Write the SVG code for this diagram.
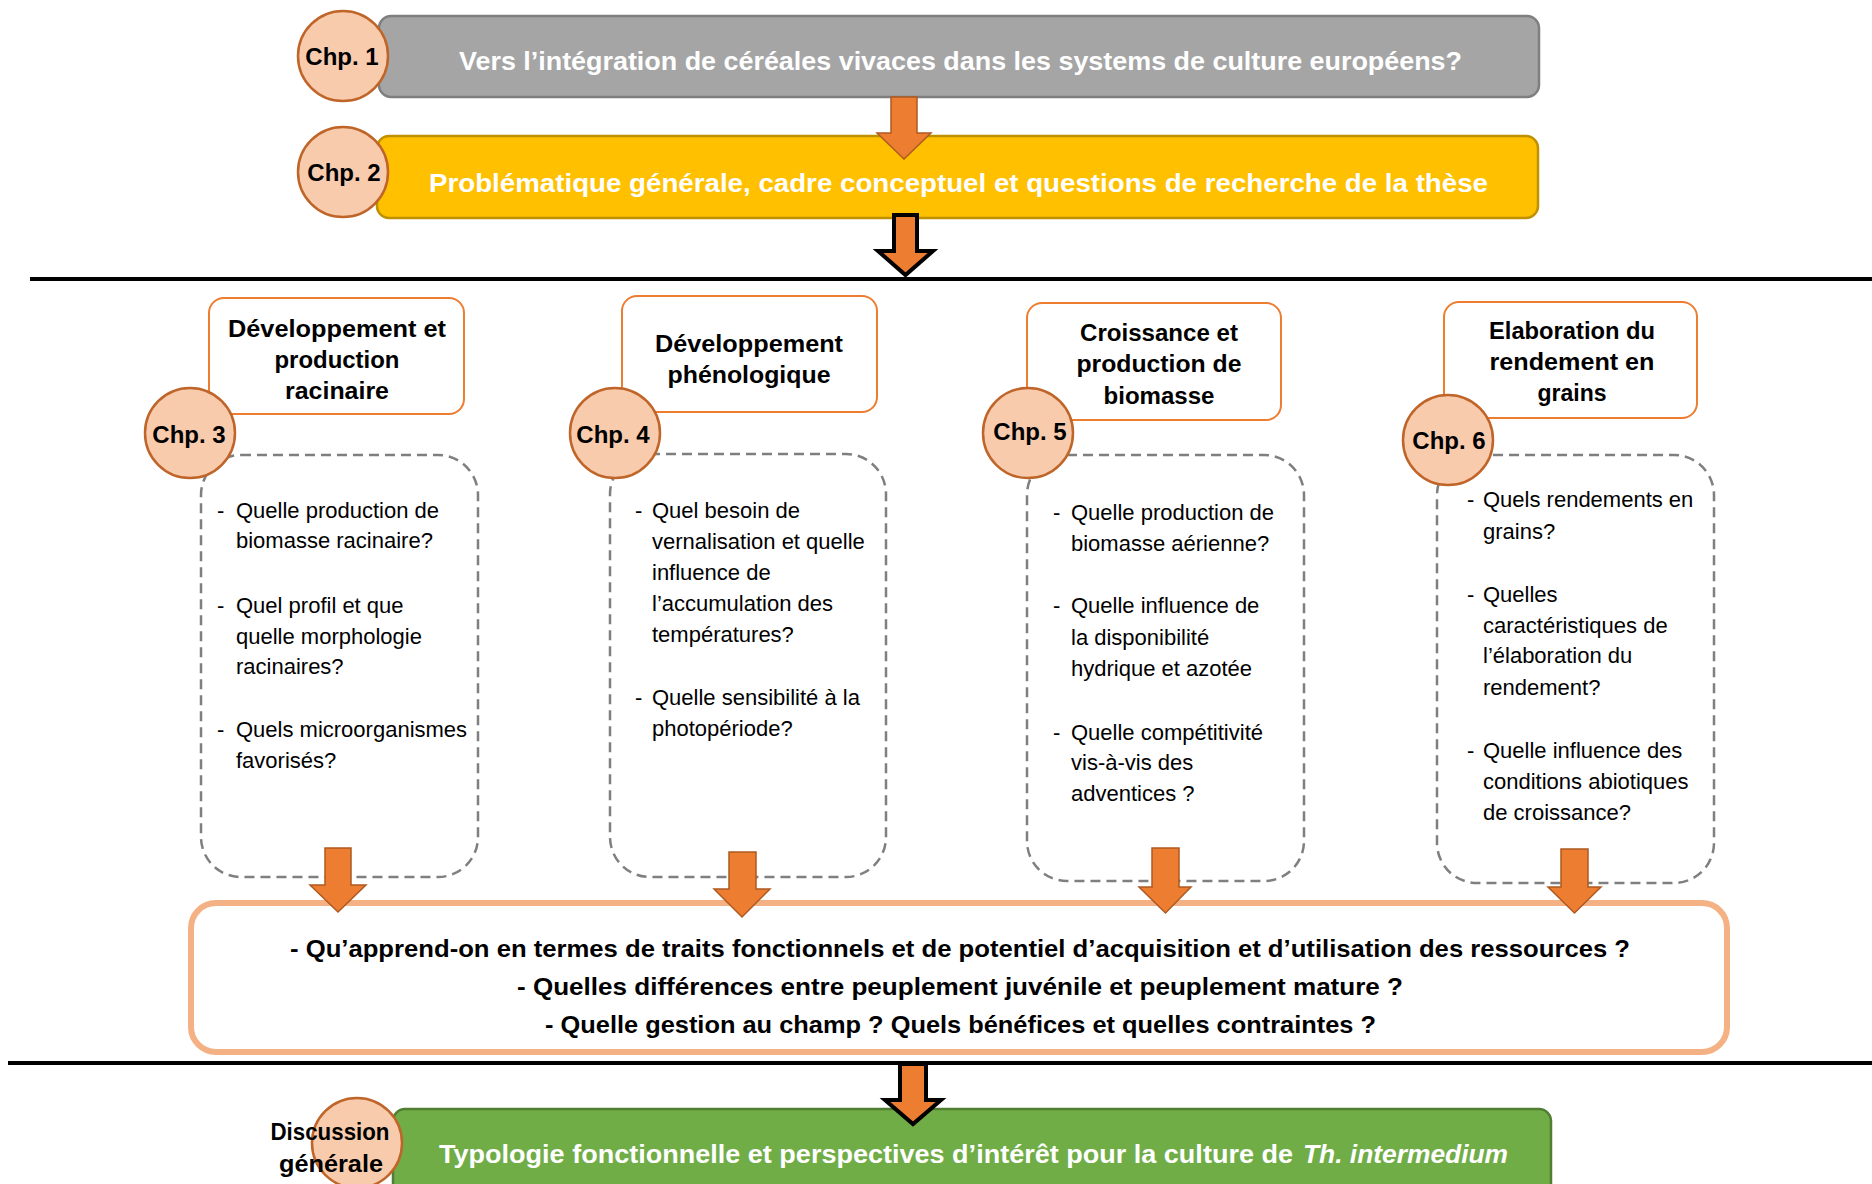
<svg xmlns="http://www.w3.org/2000/svg" width="1872" height="1184" viewBox="0 0 1872 1184">
<style>
.bg{fill:#fff}
.circ{fill:#F8CBAD;stroke:#C0652A;stroke-width:2.5}
.ctext{font-family:'Liberation Sans',Arial,sans-serif;font-weight:bold;font-size:24px;fill:#000;text-anchor:middle}
.band{font-family:'Liberation Sans',Arial,sans-serif;font-weight:bold;fill:#fff}
.tbox{fill:#fff;stroke:#ED7D31;stroke-width:2}
.ttl{font-family:'Liberation Sans',Arial,sans-serif;font-weight:bold;font-size:23px;fill:#000;text-anchor:middle}
.dbox{fill:none;stroke:#7F7F7F;stroke-width:2.5;stroke-dasharray:10 6}
.q{font-family:'Liberation Sans',Arial,sans-serif;font-size:22px;fill:#000}
.syn{font-family:'Liberation Sans',Arial,sans-serif;font-weight:bold;font-size:24px;fill:#000}
.arr{fill:#ED7D31;stroke:#AE5A21;stroke-width:1.5;stroke-linejoin:miter}
.arrk{fill:#ED7D31;stroke:#000;stroke-width:4;stroke-linejoin:miter}
.sep{stroke:#000;stroke-width:4}
</style>
<rect class="bg" x="0" y="0" width="1872" height="1184"/>

<g id="separators">
<line class="sep" x1="30" y1="279" x2="1872" y2="279"/>
<line class="sep" x1="8" y1="1063" x2="1872" y2="1063"/>
</g>

<g id="chp1">
<rect x="379" y="16" width="1160" height="81" rx="12" fill="#A5A5A5" stroke="#7F7F7F" stroke-width="2.5"/>
<text class="band" x="459" y="70" font-size="25" textLength="1003" lengthAdjust="spacingAndGlyphs">Vers l’intégration de céréales vivaces dans les systems de culture européens?</text>
<circle class="circ" cx="343" cy="56" r="45"/>
<text class="ctext" x="342" y="65">Chp. 1</text>
</g>

<g id="chp2">
<rect x="377" y="136" width="1161" height="82" rx="12" fill="#FFC000" stroke="#BF9000" stroke-width="2.5"/>
<text class="band" x="429" y="192" font-size="26.5" textLength="1059" lengthAdjust="spacingAndGlyphs">Problématique générale, cadre conceptuel et questions de recherche de la thèse</text>
<circle class="circ" cx="343" cy="172" r="45"/>
<text class="ctext" x="344" y="181">Chp. 2</text>
</g>

<g id="chp3">
<rect class="tbox" x="209" y="298" width="255" height="116" rx="15"/>
<text class="ttl" x="337" y="337" textLength="218" lengthAdjust="spacingAndGlyphs">Développement et</text>
<text class="ttl" x="337" y="368" textLength="125" lengthAdjust="spacingAndGlyphs">production</text>
<text class="ttl" x="337" y="399" textLength="104" lengthAdjust="spacingAndGlyphs">racinaire</text>
<rect class="dbox" x="201" y="455" width="277" height="422" rx="40"/>
<circle class="circ" cx="190" cy="433" r="45"/>
<text class="ctext" x="189" y="443">Chp. 3</text>
<text class="q" x="217" y="518">-</text><text class="q" x="236" y="518">Quelle production de</text>
<text class="q" x="236" y="548">biomasse racinaire?</text>
<text class="q" x="217" y="613">-</text><text class="q" x="236" y="613">Quel profil et que</text>
<text class="q" x="236" y="644">quelle morphologie</text>
<text class="q" x="236" y="674">racinaires?</text>
<text class="q" x="217" y="737">-</text><text class="q" x="236" y="737">Quels microorganismes</text>
<text class="q" x="236" y="768">favorisés?</text>
</g>

<g id="chp4">
<rect class="tbox" x="622" y="296" width="255" height="116" rx="15"/>
<text class="ttl" x="749" y="352" textLength="188" lengthAdjust="spacingAndGlyphs">Développement</text>
<text class="ttl" x="749" y="383" textLength="163" lengthAdjust="spacingAndGlyphs">phénologique</text>
<rect class="dbox" x="610" y="454" width="276" height="423" rx="40"/>
<circle class="circ" cx="615" cy="433" r="45"/>
<text class="ctext" x="613" y="443">Chp. 4</text>
<text class="q" x="635" y="518">-</text><text class="q" x="652" y="518">Quel besoin de</text>
<text class="q" x="652" y="549">vernalisation et quelle</text>
<text class="q" x="652" y="580">influence de</text>
<text class="q" x="652" y="611">l’accumulation des</text>
<text class="q" x="652" y="642">températures?</text>
<text class="q" x="635" y="705">-</text><text class="q" x="652" y="705">Quelle sensibilité à la</text>
<text class="q" x="652" y="736">photopériode?</text>
</g>

<g id="chp5">
<rect class="tbox" x="1027" y="303" width="254" height="117" rx="15"/>
<text class="ttl" x="1159" y="341" textLength="158" lengthAdjust="spacingAndGlyphs">Croissance et</text>
<text class="ttl" x="1159" y="372" textLength="165" lengthAdjust="spacingAndGlyphs">production de</text>
<text class="ttl" x="1159" y="404" textLength="111" lengthAdjust="spacingAndGlyphs">biomasse</text>
<rect class="dbox" x="1027" y="455" width="277" height="426" rx="40"/>
<circle class="circ" cx="1028" cy="433" r="45"/>
<text class="ctext" x="1030" y="440">Chp. 5</text>
<text class="q" x="1053" y="520">-</text><text class="q" x="1071" y="520">Quelle production de</text>
<text class="q" x="1071" y="551">biomasse aérienne?</text>
<text class="q" x="1053" y="613">-</text><text class="q" x="1071" y="613">Quelle influence de</text>
<text class="q" x="1071" y="645">la disponibilité</text>
<text class="q" x="1071" y="676">hydrique et azotée</text>
<text class="q" x="1053" y="740">-</text><text class="q" x="1071" y="740">Quelle compétitivité</text>
<text class="q" x="1071" y="770">vis-à-vis des</text>
<text class="q" x="1071" y="801">adventices ?</text>
</g>

<g id="chp6">
<rect class="tbox" x="1444" y="302" width="253" height="116" rx="15"/>
<text class="ttl" x="1572" y="339" textLength="166" lengthAdjust="spacingAndGlyphs">Elaboration du</text>
<text class="ttl" x="1572" y="370" textLength="165" lengthAdjust="spacingAndGlyphs">rendement en</text>
<text class="ttl" x="1572" y="401" textLength="69" lengthAdjust="spacingAndGlyphs">grains</text>
<rect class="dbox" x="1437" y="455" width="277" height="428" rx="40"/>
<circle class="circ" cx="1448" cy="440" r="45"/>
<text class="ctext" x="1449" y="449">Chp. 6</text>
<text class="q" x="1467" y="507">-</text><text class="q" x="1483" y="507">Quels rendements en</text>
<text class="q" x="1483" y="539">grains?</text>
<text class="q" x="1467" y="602">-</text><text class="q" x="1483" y="602">Quelles</text>
<text class="q" x="1483" y="633">caractéristiques de</text>
<text class="q" x="1483" y="663">l’élaboration du</text>
<text class="q" x="1483" y="695">rendement?</text>
<text class="q" x="1467" y="758">-</text><text class="q" x="1483" y="758">Quelle influence des</text>
<text class="q" x="1483" y="789">conditions abiotiques</text>
<text class="q" x="1483" y="820">de croissance?</text>
</g>

<g id="synthese">
<rect x="191" y="903" width="1536" height="149" rx="25" fill="#fff" stroke="#F4B183" stroke-width="6"/>
<text class="syn" x="290" y="957" textLength="1340" lengthAdjust="spacingAndGlyphs">-  Qu’apprend-on en termes de traits fonctionnels et de potentiel d’acquisition et d’utilisation des ressources ?</text>
<text class="syn" x="517" y="995" textLength="886" lengthAdjust="spacingAndGlyphs">-  Quelles différences entre peuplement juvénile et peuplement mature ?</text>
<text class="syn" x="545" y="1033" textLength="831" lengthAdjust="spacingAndGlyphs">-  Quelle gestion au champ ? Quels bénéfices et quelles contraintes ?</text>
</g>

<g id="discussion">
<rect x="393" y="1109" width="1158" height="110" rx="12" fill="#70AD47" stroke="#507E32" stroke-width="2.5"/>
<text class="band" x="439" y="1163" font-size="26" textLength="854" lengthAdjust="spacingAndGlyphs">Typologie fonctionnelle et perspectives d’intérêt pour la culture de</text>
<text class="band" x="1303" y="1163" font-size="26" font-style="italic" textLength="205" lengthAdjust="spacingAndGlyphs">Th. intermedium</text>
<circle class="circ" cx="357" cy="1143" r="45"/>
<text class="ctext" x="330" y="1140" font-size="22" textLength="119" lengthAdjust="spacingAndGlyphs">Discussion</text>
<text class="ctext" x="331" y="1172" font-size="22" textLength="104" lengthAdjust="spacingAndGlyphs">générale</text>
</g>

<g id="connectors">
<path class="arr" d="M891,97 L917,97 L917,133 L931,133 L904,159 L877,133 L891,133 Z"/>
<path class="arrk" d="M894,215 L917,215 L917,251 L933,251 L905.5,275 L878,251 L894,251 Z"/>
<path class="arr" d="M325,848 L351,848 L351,885 L366,885 L338,912 L310,885 L325,885 Z"/>
<path class="arr" d="M729,852 L756,852 L756,889 L770,889 L742,917 L714,889 L729,889 Z"/>
<path class="arr" d="M1152,848 L1179,848 L1179,887 L1191,887 L1165.5,913 L1139,887 L1152,887 Z"/>
<path class="arr" d="M1561,849 L1588,849 L1588,887 L1601,887 L1574.5,913 L1548,887 L1561,887 Z"/>
<path class="arrk" d="M900,1064 L926,1064 L926,1100 L941,1100 L913,1124 L885,1100 L900,1100 Z"/>
</g>
</svg>
